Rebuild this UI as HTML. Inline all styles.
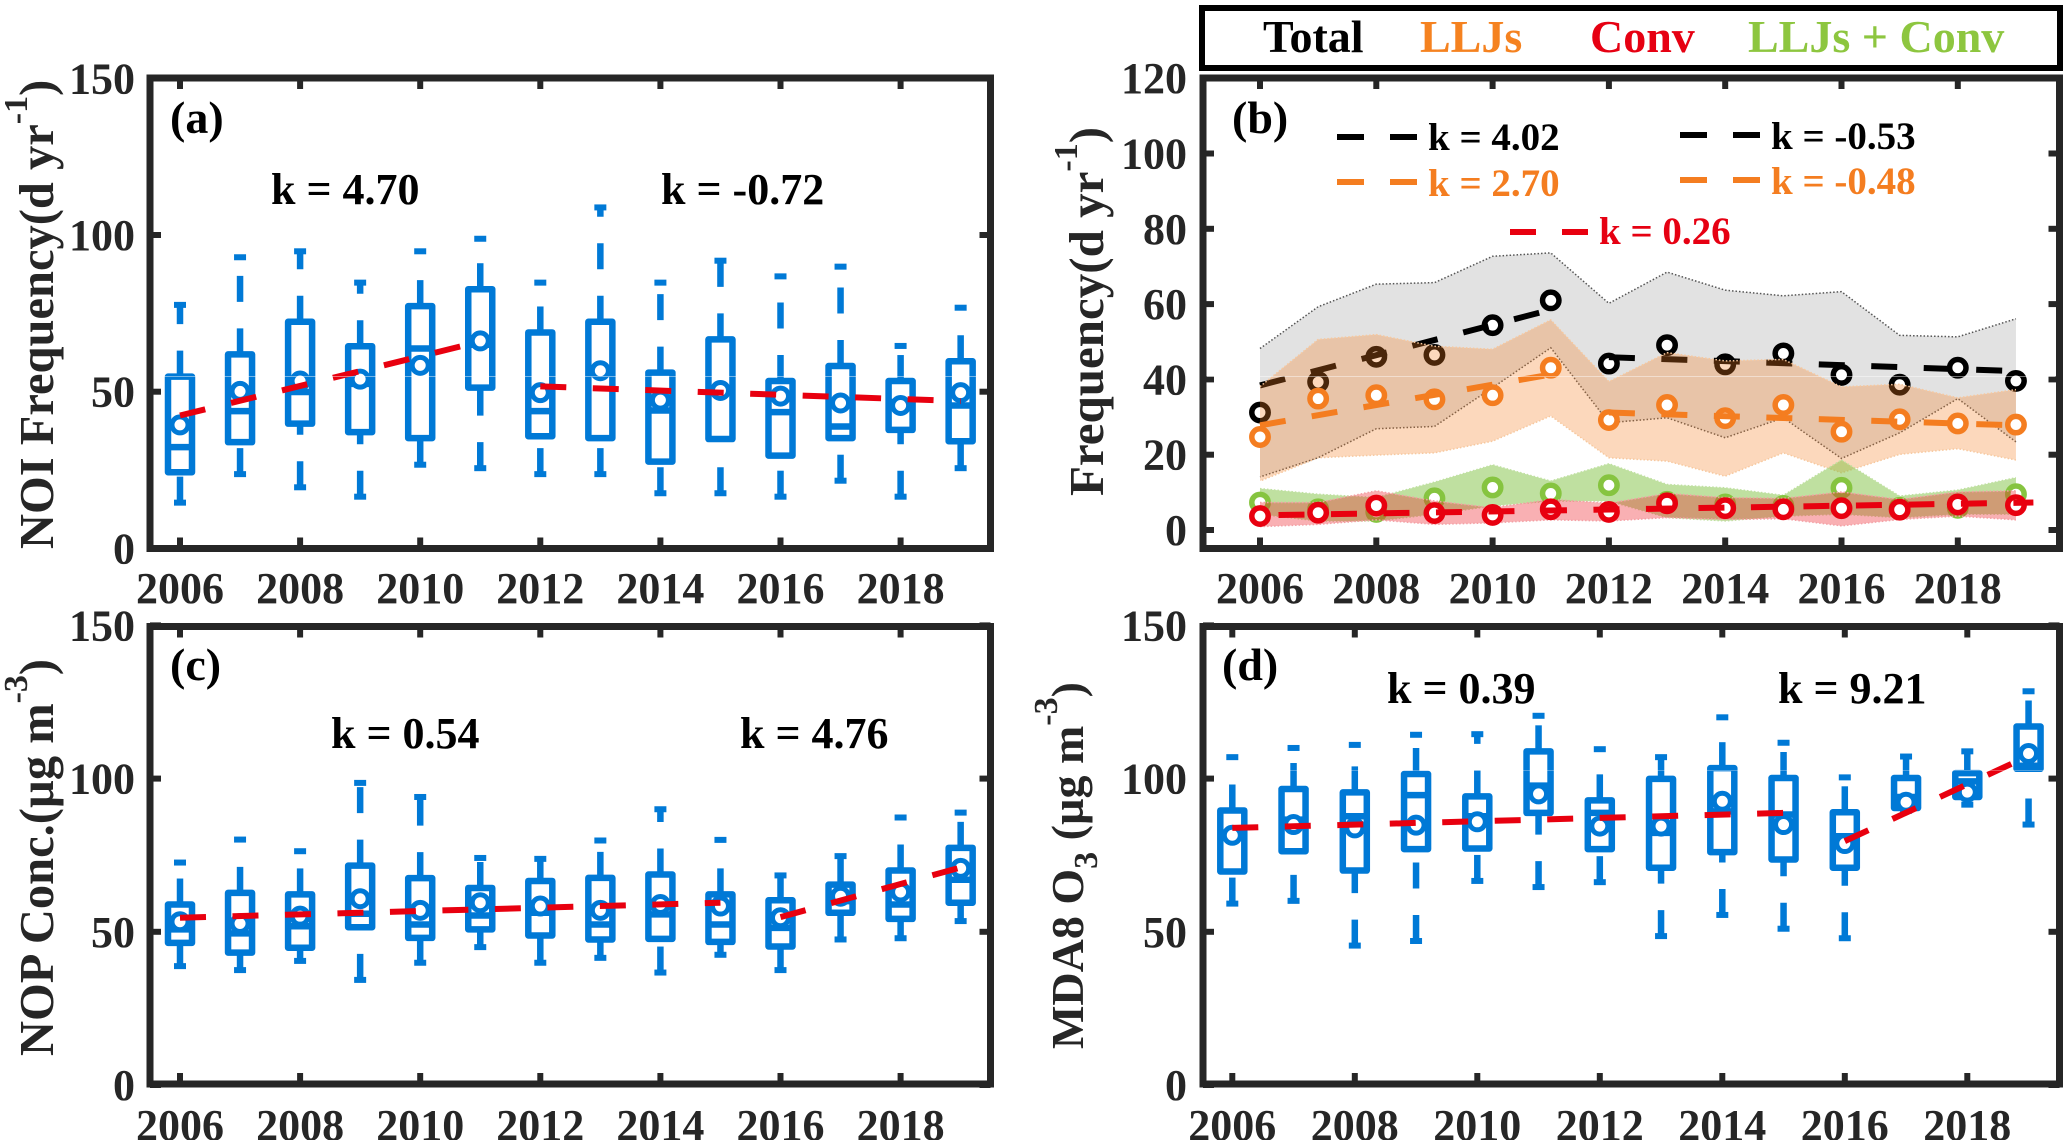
<!DOCTYPE html>
<html lang="en">
<head>
<meta charset="utf-8">
<title>NOI frequency, NOP concentration and MDA8 O3 trends</title>
<style>
html,body{margin:0;padding:0;background:#fff;width:2067px;height:1140px;overflow:hidden}
svg{display:block}
text{font-family:"Liberation Serif",serif;font-weight:bold}
</style>
</head>
<body>
<svg id="figure" xmlns="http://www.w3.org/2000/svg" width="2067" height="1140" viewBox="0 0 2067 1140">
  <rect x="0" y="0" width="2067" height="1140" fill="#fff"/>
  <g id="layer-a"></g>
  <g id="layer-b"></g>
  <g id="layer-c"></g>
  <g id="layer-d"></g>

  <g>
    <rect x="1202" y="8" width="858" height="60" fill="#fff" stroke="#000" stroke-width="6"/>
    <text x="1263" y="52" font-size="46" fill="#000">Total</text>
    <text x="1420" y="52" font-size="46" fill="#f58220">LLJs</text>
    <text x="1590" y="52" font-size="46" fill="#e60012">Conv</text>
    <text x="1748" y="52" font-size="46" fill="#8dc63f">LLJs + Conv</text>
  </g>

  <text x="170" y="133" font-size="46">(a)</text>
  <text x="1232" y="133" font-size="46">(b)</text>
  <text x="170" y="680" font-size="46">(c)</text>
  <text x="1222" y="680" font-size="46">(d)</text>

  <text x="271" y="204" font-size="44">k = 4.70</text>
  <text x="661" y="204" font-size="44">k = -0.72</text>
  <text x="331" y="748" font-size="44">k = 0.54</text>
  <text x="740" y="748" font-size="44">k = 4.76</text>
  <text x="1387" y="703" font-size="44">k = 0.39</text>
  <text x="1778" y="703" font-size="44">k = 9.21</text>

  <g font-size="39">
    <text x="1428" y="150" fill="#000">k = 4.02</text>
    <text x="1771" y="149" fill="#000">k = -0.53</text>
    <text x="1428" y="196" fill="#f47d20">k = 2.70</text>
    <text x="1771" y="194" fill="#f47d20">k = -0.48</text>
    <text x="1599" y="244" fill="#e60012">k = 0.26</text>
    <line x1="1337" x2="1418" y1="137" y2="137" stroke="#000" stroke-width="6" stroke-dasharray="27 26"/>
    <line x1="1680" x2="1760" y1="135" y2="135" stroke="#000" stroke-width="6" stroke-dasharray="27 26"/>
    <line x1="1337" x2="1418" y1="182" y2="182" stroke="#f47d20" stroke-width="6" stroke-dasharray="27 26"/>
    <line x1="1680" x2="1760" y1="180" y2="180" stroke="#f47d20" stroke-width="6" stroke-dasharray="27 26"/>
    <line x1="1510" x2="1588" y1="232" y2="232" stroke="#e8000f" stroke-width="6" stroke-dasharray="26 26"/>
  </g>

  <g fill="#262626" font-size="49">
    <text font-size="48.5" transform="translate(53,549) rotate(-90)">NOI Frequency(d yr<tspan dy="-26" font-size="34">-1</tspan><tspan dy="26">)</tspan></text>
    <text transform="translate(1103,496) rotate(-90)">Frequency(d yr<tspan dy="-26" font-size="34">-1</tspan><tspan dy="26">)</tspan></text>
    <text font-size="48.5" transform="translate(53,1056) rotate(-90)">NOP Conc.(µg m<tspan dy="-26" font-size="34">-3</tspan><tspan dy="26">)</tspan></text>
    <text font-size="46" transform="translate(1083,1049) rotate(-90)">MDA8 O<tspan dy="14" font-size="34">3</tspan><tspan dy="-14"> (µg m</tspan><tspan dy="-26" font-size="34">-3</tspan><tspan dy="26">)</tspan></text>
  </g>

  <g stroke="#fff" stroke-opacity="0.45" stroke-width="1">
    <line x1="155" x2="986" y1="376.5" y2="376.5"/>
    <line x1="1207" x2="2055" y1="376.5" y2="376.5"/>
    <line x1="155" x2="986" y1="770.5" y2="770.5" stroke-opacity="0.3"/>
    <line x1="1207" x2="2055" y1="770.5" y2="770.5" stroke-opacity="0.3"/>
  </g>
</svg>

<script>
// ---------- shared categories and tick labels ----------
const years = [2006,2007,2008,2009,2010,2011,2012,2013,2014,2015,2016,2017,2018,2019];
const xTickLabels = [2006,2008,2010,2012,2014,2016,2018];
const yTicksBox = [0,50,100,150];
const yTicksFreq = [0,20,40,60,80,100,120];

// ---------- panel (a) NOI frequency ----------
const aMax  = [77.7,92.9,94.8,84.8,94.8,98.8,84.8,108.8,84.8,91.8,86.8,89.9,64.6,76.8];
const aQ3   = [54.8,61.9,72.3,64.5,77.3,82.7,68.9,72.3,56.1,66.7,53.4,58.2,53.4,59.7];
const aMed  = [32.3,43.8,49.9,52.5,63.8,65.0,43.8,56.0,44.0,50.4,43.5,38.9,46.7,45.6];
const aQ1   = [24.3,33.9,39.8,37.1,35.2,51.3,35.8,35.2,27.7,34.9,29.6,35.2,37.8,34.2];
const aMin  = [14.6,23.7,19.5,16.5,26.7,25.6,23.7,23.7,17.6,17.6,16.5,21.6,16.5,25.6];
const aMean = [39.4,50.1,53.4,54.0,58.4,66.2,49.7,56.7,47.3,50.4,48.6,46.4,45.6,49.7];
const aTrendEarly = [42.4,66.0];
const aTrendLate  = [51.7,47.0];

// ---------- panel (c) NOP concentration ----------
const cMax  = [72.6,80.1,76.3,98.6,94.0,74.1,73.8,79.8,90.0,80.0,68.4,74.7,87.3,88.9];
const cQ3   = [58.9,62.7,62.2,71.6,67.5,64.3,66.6,67.6,68.7,62.2,60.3,65.4,70.0,77.4];
const cMed  = [50.8,49.5,51.8,55.9,52.4,55.3,56.2,52.4,55.7,52.4,51.3,60.0,58.9,67.0];
const cQ1   = [46.4,43.2,44.8,51.5,48.0,50.8,48.8,47.5,47.7,46.7,45.2,56.2,54.2,59.5];
const cMin  = [38.8,37.5,40.5,34.3,39.9,45.0,39.9,41.5,36.7,42.5,37.5,47.5,47.9,53.5];
const cMean = [53.3,52.7,55.1,60.8,57.0,59.5,58.4,57.0,58.9,58.4,54.6,61.6,63.0,70.7];
const cTrendEarly = [54.6,59.5];
const cTrendLate  = [54.8,71.0];

// ---------- panel (d) MDA8 O3 ----------
const dMax  = [107,110,111,114.3,114.5,120.5,109.6,107,120,111.7,100.4,107.2,108.9,128.5];
const dQ3   = [89.6,96.6,95.5,101.5,94.2,108.9,92.9,99.9,103.4,100.2,89.0,100.2,101.8,117.0];
const dMed  = [81.2,86.6,87.7,94.6,87.7,97.7,88.8,82.3,89.3,88.3,81.2,94.0,99.1,104.2];
const dQ1   = [69.7,76.3,70.0,77.0,77.2,88.8,77.0,70.9,76.0,73.6,70.9,90.4,94.0,103.2];
const dMin  = [59.2,60.1,45.5,47.0,66.6,64.6,66.2,48.6,55.5,51.0,47.9,89.5,91.5,85.0];
const dMean = [81.5,85.0,83.9,84.8,85.9,95.0,84.5,84.5,92.6,85.0,78.8,92.3,95.6,108.2];
const dTrendEarly = [83.9,88.8];
const dTrendLate  = [79.6,107.4];

// ---------- panel (b) event frequency ----------
const totalMean = [31.2,39.3,46.0,46.5,54.4,61.0,44.2,49.1,44.0,46.9,41.2,38.6,43.1,39.6];
const totalHigh = [48.2,59.3,65.3,65.7,72.7,73.6,60.2,68.5,63.7,62.2,63.3,51.7,51.3,56.1];
const totalLow  = [14.1,19.2,26.9,27.5,37.8,48.4,28.5,29.8,24.5,29.8,19.0,25.8,34.9,23.4];
const lljMean = [24.7,34.9,35.8,34.7,35.8,43.1,29.2,33.2,29.7,33.2,26.1,29.4,28.3,28.0];
const lljHigh = [38.1,50.6,51.9,48.8,48.0,55.8,39.4,47.1,44.9,45.3,38.0,38.7,35.1,37.3];
const lljLow  = [13.0,19.2,19.9,20.5,23.6,30.3,19.2,18.3,14.3,20.5,15.2,20.1,21.6,18.6];
const bothMean = [7.3,5.5,4.8,8.4,11.3,9.7,11.9,7.5,6.8,6.4,11.2,5.9,5.9,9.5];
const bothHigh = [11.0,9.5,8.6,12.7,17.3,13.0,17.6,12.1,11.2,9.2,18.6,9.0,10.6,13.9];
const bothLow  = [4.2,2.4,2.4,4.2,6.4,7.7,7.7,3.3,2.4,3.7,4.2,3.3,4.2,4.2];
const convMean = [3.7,4.6,6.5,4.5,4.0,5.5,4.8,7.1,5.8,5.5,5.8,5.4,6.8,6.6];
const convHigh = [7.3,7.3,10.4,7.7,5.9,8.1,7.1,9.7,8.6,8.4,10.1,8.1,10.1,10.4];
const convLow  = [0.9,1.5,2.7,1.5,1.9,2.7,2.4,3.3,2.8,3.0,1.1,2.8,3.7,2.7];
const totalTrendEarly = [38.4,58.5];
const totalTrendLate  = [45.9,42.2];
const lljTrendEarly = [27.8,41.3];
const lljTrendLate  = [31.2,27.8];
const convTrend = [3.9,7.3];

// ---------- panel geometry and axis functions ----------
const NS = 'http://www.w3.org/2000/svg';
const INK = '#262626', BLUE = '#0079d6', RED = '#e8000f', ORANGE = '#f47d20', GREEN = '#7fc241';
const panelA = {g:'layer-a', L:150, R:990.5, T:78, B:548.5, x0:180, dx:60.05, y0:548.4, py:3.134, yt:yTicksBox, labX:135, labY:603, name:'a'};
const panelB = {g:'layer-b', L:1203, R:2059.5, T:78, B:548.5, x0:1260, dx:58.15, y0:530, py:3.765, yt:yTicksFreq, labX:1187, labY:603, name:'b'};
const panelC = {g:'layer-c', L:150, R:990.5, T:626.5, B:1084, x0:180, dx:60.05, y0:1085, py:3.064, yt:yTicksBox, labX:135, labY:1140, name:'c'};
const panelD = {g:'layer-d', L:1203, R:2059.5, T:626.5, B:1084, x0:1232.3, dx:61.25, y0:1085, py:3.064, yt:yTicksBox, labX:1187, labY:1140, name:'d'};

function xPos(p, year){ return p.x0 + (year - years[0]) * p.dx; }
function yPos(p, value){ return p.y0 - value * p.py; }

function mk(parent, tag, attrs){
  const el = document.createElementNS(NS, tag);
  for (const k in attrs) el.setAttribute(k, attrs[k]);
  parent.appendChild(el);
  return el;
}

function drawAxes(p){
  const g = document.getElementById(p.g);
  const ax = mk(g, 'g', {});
  
  
  xTickLabels.forEach(function(y){
    const x = xPos(p, y);
    [[p.T, p.T + 11], [p.B, p.B - 11]].forEach(function(s){
      const t = mk(ax, 'line', {x1:x, x2:x, y1:s[0], y2:s[1], stroke:INK, 'stroke-width':6});
      
      
    });
    const lab = mk(ax, 'text', {x:x, y:p.labY, 'text-anchor':'middle', 'font-size':44, fill:INK});
    lab.textContent = y;
    
    
  });
  p.yt.forEach(function(v){
    const y = yPos(p, v);
    [[p.L, p.L + 11], [p.R, p.R - 11]].forEach(function(s){
      const t = mk(ax, 'line', {x1:s[0], x2:s[1], y1:y, y2:y, stroke:INK, 'stroke-width':6});
      
      
    });
    const lab = mk(ax, 'text', {x:p.labX, y:y + 15, 'text-anchor':'end', 'font-size':44, fill:INK});
    lab.textContent = v;
    
    
  });
}

function drawFrame(p){
  const g = document.getElementById(p.g);
  const f = mk(g, 'rect', {x:p.L, y:p.T, width:p.R - p.L, height:p.B - p.T, fill:'none', stroke:INK, 'stroke-width':7});
  
  
}

function drawBoxes(p, maxV, q3V, medV, q1V, minV, meanV){
  const root = document.getElementById(p.g);
  years.forEach(function(year, i){
    const x = xPos(p, year);
    const g = mk(root, 'g', {});
    
    
    const up = mk(g, 'line', {x1:x, x2:x, y1:yPos(p,q3V[i]), y2:yPos(p,maxV[i]), stroke:BLUE, 'stroke-width':6.5, 'stroke-dasharray':'26 26.5'});
    
    
    const down = mk(g, 'line', {x1:x, x2:x, y1:yPos(p,minV[i]), y2:yPos(p,q1V[i]), stroke:BLUE, 'stroke-width':6.5, 'stroke-dasharray':'26 26.5'});
    
    
    const capTop = mk(g, 'line', {x1:x - 6, x2:x + 6, y1:yPos(p,maxV[i]), y2:yPos(p,maxV[i]), stroke:BLUE, 'stroke-width':6});
    
    
    const capLow = mk(g, 'line', {x1:x - 6, x2:x + 6, y1:yPos(p,minV[i]), y2:yPos(p,minV[i]), stroke:BLUE, 'stroke-width':6});
    
    
    const body = mk(g, 'rect', {x:x - 12, y:yPos(p,q3V[i]), width:24, height:yPos(p,q1V[i]) - yPos(p,q3V[i]), fill:'none', stroke:BLUE, 'stroke-width':6.5, 'stroke-linejoin':'round'});
    
    
    const med = mk(g, 'line', {x1:x - 12, x2:x + 12, y1:yPos(p,medV[i]), y2:yPos(p,medV[i]), stroke:BLUE, 'stroke-width':6.5});
    
    
    const mean = mk(g, 'circle', {cx:x, cy:yPos(p,meanV[i]), r:8, fill:'#fff', stroke:BLUE, 'stroke-width':5});
    
    
  });
}

function drawTrend(p, startYear, endYear, values, color, offset, name){
  const root = document.getElementById(p.g);
  const t = mk(root, 'line', {x1:xPos(p,startYear), x2:xPos(p,endYear), y1:yPos(p,values[0]), y2:yPos(p,values[1]), stroke:color, 'stroke-width':6, 'stroke-dasharray':'26 26.5', 'stroke-dashoffset':offset});
  
  
}

function drawBand(p, high, low, color, opacity, edgeColor, name){
  const root = document.getElementById(p.g);
  const hi = years.map(function(y,i){ return xPos(p,y) + ',' + yPos(p,high[i]); });
  const lo = years.map(function(y,i){ return xPos(p,y) + ',' + yPos(p,low[i]); }).reverse();
  const band = mk(root, 'polygon', {points:hi.concat(lo).join(' '), fill:color, 'fill-opacity':opacity});
  
  
  const e1 = mk(root, 'polyline', {points:hi.join(' '), fill:'none', stroke:edgeColor, 'stroke-width':1.5, 'stroke-dasharray':'1.5 2'});
  
  
  const e2 = mk(root, 'polyline', {points:lo.join(' '), fill:'none', stroke:edgeColor, 'stroke-width':1.5, 'stroke-dasharray':'1.5 2'});
  
  
}

function drawMeans(p, values, color, name){
  const root = document.getElementById(p.g);
  years.forEach(function(y, i){
    const c = mk(root, 'circle', {cx:xPos(p,y), cy:yPos(p,values[i]), r:8.2, fill:'#fff', stroke:color, 'stroke-width':5.5});
    
    
  });
}

// ---------- panel a ----------
drawFrame(panelA);
drawAxes(panelA);
drawBoxes(panelA, aMax, aQ3, aMed, aQ1, aMin, aMean);
drawTrend(panelA, 2006, 2011, aTrendEarly, RED, 0, 'trend-early');
drawTrend(panelA, 2012, 2019, aTrendLate, RED, 0, 'trend-late');

// ---------- panel c ----------
drawFrame(panelC);
drawAxes(panelC);
drawBoxes(panelC, cMax, cQ3, cMed, cQ1, cMin, cMean);
drawTrend(panelC, 2006, 2015, cTrendEarly, RED, 0, 'trend-early');
drawTrend(panelC, 2016, 2019, cTrendLate, RED, 0, 'trend-late');

// ---------- panel d ----------
drawFrame(panelD);
drawAxes(panelD);
drawBoxes(panelD, dMax, dQ3, dMed, dQ1, dMin, dMean);
drawTrend(panelD, 2006, 2015, dTrendEarly, RED, 0, 'trend-early');
drawTrend(panelD, 2016, 2019, dTrendLate, RED, 0, 'trend-late');

// ---------- panel b: later layers tint the earlier ones ----------
drawFrame(panelB);
drawAxes(panelB);
drawBand(panelB, totalHigh, totalLow, '#e2e2e2', 1, '#555', 'total');
drawMeans(panelB, totalMean, '#000', 'total');
drawTrend(panelB, 2006, 2011, totalTrendEarly, '#000', 0, 'total-trend-early');
drawTrend(panelB, 2012, 2019, totalTrendLate, '#000', 0, 'total-trend-late');
drawBand(panelB, lljHigh, lljLow, ORANGE, 0.3, '#f7c89e', 'lljs');
drawMeans(panelB, lljMean, ORANGE, 'lljs');
drawTrend(panelB, 2006, 2011, lljTrendEarly, ORANGE, 0, 'lljs-trend-early');
drawTrend(panelB, 2012, 2019, lljTrendLate, ORANGE, 0, 'lljs-trend-late');
drawBand(panelB, bothHigh, bothLow, GREEN, 0.5, '#bfe0a0', 'lljs-conv');
drawMeans(panelB, bothMean, '#86c440', 'lljs-conv');
drawBand(panelB, convHigh, convLow, '#ed1c24', 0.35, '#f4a0a5', 'conv');
drawMeans(panelB, convMean, RED, 'conv');
drawTrend(panelB, 2006, 2019.3, convTrend, RED, 34, 'conv-trend');
</script>
</body>
</html>
